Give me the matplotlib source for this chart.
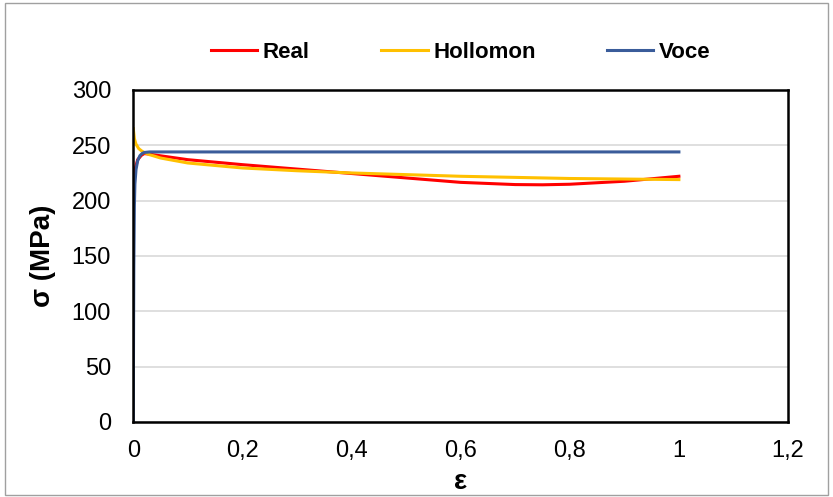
import numpy as np
import matplotlib.pyplot as plt
from matplotlib.patches import Rectangle

plt.rcParams['font.family'] = ['Liberation Sans', 'DejaVu Sans']

# Real
real_x = [0, 0.003, 0.008, 0.015, 0.02, 0.03, 0.05, 0.1, 0.2, 0.3, 0.4, 0.5, 0.6, 0.7, 0.75, 0.8, 0.9, 1.0]
real_y = [213, 228, 237, 241, 242.5, 242, 240.5, 237, 232.5, 228.5, 224.5, 220.5, 216.5, 214.5, 214.3, 214.8, 217.5, 222]

# Hollomon
hol_x = [0, 0.002, 0.005, 0.01, 0.015, 0.02, 0.03, 0.05, 0.1, 0.2, 0.3, 0.4, 0.5, 0.6, 0.7, 0.8, 0.9, 1.0]
hol_y = [265, 256, 251, 247, 245, 243.5, 241.5, 238.5, 234, 229.5, 227, 225, 223.5, 222, 221, 220, 219.5, 219]

# Voce
voce_x = [0, 0.0005, 0.001, 0.002, 0.003, 0.005, 0.008, 0.012, 0.016, 0.02, 0.03, 0.05, 1.0]
voce_y = [0, 80, 140, 195, 215, 228, 236, 240.5, 242.5, 243.5, 244, 244, 244]

fig = plt.figure(figsize=(8.33, 4.97), dpi=100)
ax = fig.add_axes([0.160, 0.151, 0.786, 0.668])

ax.plot(real_x, real_y, color='#ff0000', lw=2.2, label='Real')
ax.plot(hol_x, hol_y, color='#ffc000', lw=2.2, label='Hollomon')
ax.plot(voce_x, voce_y, color='#3a5c9a', lw=2.2, label='Voce')

ax.set_xlim(0, 1.2)
ax.set_ylim(0, 300)
ax.set_xticks(np.arange(0, 1.21, 0.2))
ax.set_xticklabels(['0', '0,2', '0,4', '0,6', '0,8', '1', '1,2'])
ax.set_yticks(np.arange(0, 301, 50))
ax.tick_params(length=0, labelsize=17)
ax.tick_params(axis='y', pad=16)
ax.tick_params(axis='x', pad=13)
ax.grid(axis='y', color='#d9d9d9', lw=1.2)
ax.set_axisbelow(True)
for s in ax.spines.values():
    s.set_linewidth(1.8)
    s.set_color('black')

ax.set_xlabel('ε', fontsize=20, fontweight='bold', labelpad=5)
ax.set_ylabel('σ (MPa)', fontsize=20, fontweight='bold', labelpad=11)

fig.legend(loc='center', bbox_to_anchor=(0.553, 0.895), ncol=3, frameon=False,
           prop={'weight': 'bold', 'size': 16}, columnspacing=3.2,
           handlelength=2.1, handletextpad=0.25)

fig.patches.append(Rectangle((0.006, 0.004), 0.988, 0.99, transform=fig.transFigure,
                             fill=False, edgecolor='#a0a0a0', lw=1))

fig.savefig('out.png', dpi=100)
